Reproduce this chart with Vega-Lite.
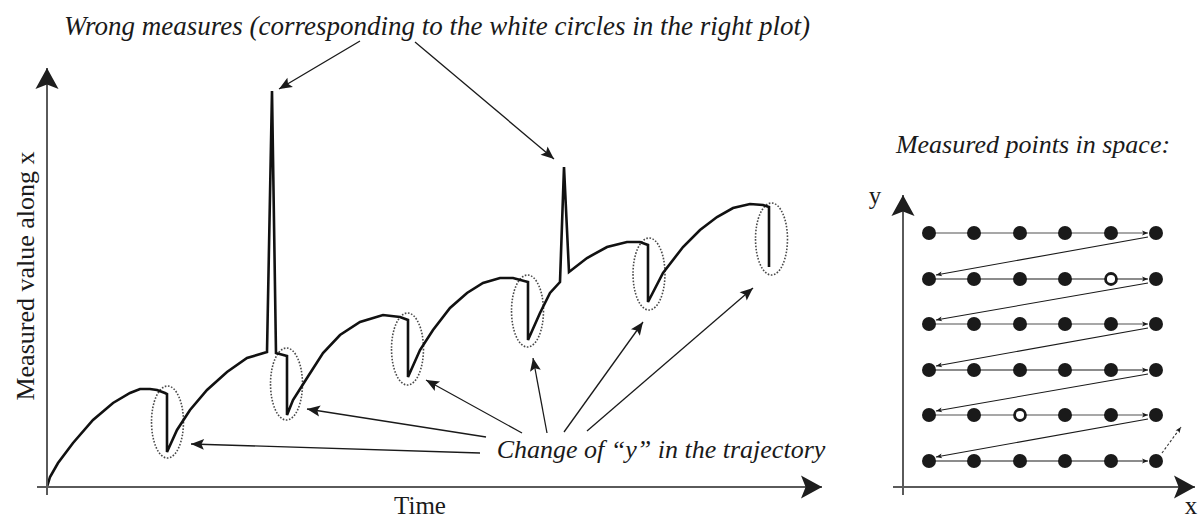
{
  "$schema": "https://vega.github.io/schema/vega-lite/v6.json",
  "width": 1200,
  "height": 522,
  "autosize": {"type": "none"},
  "padding": 0,
  "background": "white",
  "config": {"view": {"stroke": null}},
  "datasets": {
    "curve": [
      {"i": 0, "x": 0, "y": 0}, {"i": 1, "x": 3, "y": 10}, {"i": 2, "x": 11, "y": 24}, {"i": 3, "x": 26, "y": 44},
      {"i": 4, "x": 46, "y": 67}, {"i": 5, "x": 66, "y": 84}, {"i": 6, "x": 83, "y": 94}, {"i": 7, "x": 93, "y": 98},
      {"i": 8, "x": 103, "y": 98}, {"i": 9, "x": 110, "y": 97}, {"i": 10, "x": 118, "y": 94}, {"i": 11, "x": 120, "y": 93},
      {"i": 12, "x": 120, "y": 35}, {"i": 13, "x": 130, "y": 57}, {"i": 14, "x": 143, "y": 77}, {"i": 15, "x": 160, "y": 97},
      {"i": 16, "x": 180, "y": 115}, {"i": 17, "x": 200, "y": 129}, {"i": 18, "x": 220, "y": 135}, {"i": 19, "x": 225, "y": 396},
      {"i": 20, "x": 229, "y": 134}, {"i": 21, "x": 240, "y": 131}, {"i": 22, "x": 240, "y": 72}, {"i": 23, "x": 246, "y": 87},
      {"i": 24, "x": 260, "y": 109}, {"i": 25, "x": 276, "y": 134}, {"i": 26, "x": 293, "y": 152}, {"i": 27, "x": 313, "y": 165},
      {"i": 28, "x": 336, "y": 172}, {"i": 29, "x": 353, "y": 170}, {"i": 30, "x": 361, "y": 167}, {"i": 31, "x": 361, "y": 110},
      {"i": 32, "x": 373, "y": 137}, {"i": 33, "x": 386, "y": 157}, {"i": 34, "x": 403, "y": 179}, {"i": 35, "x": 420, "y": 194},
      {"i": 36, "x": 436, "y": 204}, {"i": 37, "x": 453, "y": 209}, {"i": 38, "x": 466, "y": 209}, {"i": 39, "x": 481, "y": 205},
      {"i": 40, "x": 481, "y": 147}, {"i": 41, "x": 493, "y": 174}, {"i": 42, "x": 503, "y": 194}, {"i": 43, "x": 513, "y": 205},
      {"i": 44, "x": 517, "y": 320}, {"i": 45, "x": 522, "y": 215}, {"i": 46, "x": 540, "y": 229}, {"i": 47, "x": 560, "y": 240},
      {"i": 48, "x": 580, "y": 245}, {"i": 49, "x": 593, "y": 245}, {"i": 50, "x": 601, "y": 242}, {"i": 51, "x": 601, "y": 185},
      {"i": 52, "x": 616, "y": 214}, {"i": 53, "x": 636, "y": 240}, {"i": 54, "x": 653, "y": 257}, {"i": 55, "x": 670, "y": 270},
      {"i": 56, "x": 686, "y": 279}, {"i": 57, "x": 703, "y": 283}, {"i": 58, "x": 716, "y": 282}, {"i": 59, "x": 722, "y": 280},
      {"i": 60, "x": 722, "y": 220}
    ],
    "ellipses": [
      {"x": 120.5, "y": 65}, {"x": 239.5, "y": 103}, {"x": 360.5, "y": 138},
      {"x": 480.5, "y": 176}, {"x": 602, "y": 213}, {"x": 724.5, "y": 248}
    ],
    "arrows": [
      {"x": 0, "y": -8, "x2": 0, "y2": 419, "kind": "axis"},
      {"x": -10, "y": 0, "x2": 775, "y2": 0, "kind": "axis"},
      {"x": 856, "y": -8, "x2": 856, "y2": 292, "kind": "axis"},
      {"x": 846, "y": 0, "x2": 1148, "y2": 0, "kind": "axis"},
      {"x": 313, "y": 446, "x2": 232, "y2": 398, "kind": "note"},
      {"x": 368, "y": 445, "x2": 507, "y2": 328, "kind": "note"},
      {"x": 433, "y": 34, "x2": 144, "y2": 43, "kind": "note"},
      {"x": 439, "y": 50, "x2": 260, "y2": 78, "kind": "note"},
      {"x": 475, "y": 54, "x2": 379, "y2": 107, "kind": "note"},
      {"x": 500, "y": 54, "x2": 486, "y2": 129, "kind": "note"},
      {"x": 517, "y": 55, "x2": 596, "y2": 165, "kind": "note"},
      {"x": 540, "y": 56, "x2": 706, "y2": 199, "kind": "note"},
      {"x": 882, "y": 254, "x2": 1101, "y2": 254, "kind": "scanB"},
      {"x": 882, "y": 208, "x2": 1101, "y2": 208, "kind": "scanA"},
      {"x": 882, "y": 163, "x2": 1101, "y2": 163, "kind": "scanB"},
      {"x": 882, "y": 117, "x2": 1101, "y2": 117, "kind": "scanA"},
      {"x": 882, "y": 72, "x2": 1101, "y2": 72, "kind": "scanB"},
      {"x": 882, "y": 26, "x2": 1101, "y2": 26, "kind": "scanA"},
      {"x": 1101, "y": 250, "x2": 889, "y2": 212, "kind": "return"},
      {"x": 1101, "y": 204, "x2": 889, "y2": 167, "kind": "return"},
      {"x": 1101, "y": 159, "x2": 889, "y2": 121, "kind": "return"},
      {"x": 1101, "y": 113, "x2": 889, "y2": 76, "kind": "return"},
      {"x": 1101, "y": 68, "x2": 889, "y2": 30, "kind": "return"},
      {"x": 1115, "y": 34, "x2": 1134, "y2": 60, "kind": "next"}
    ],
    "points": [
      {"x": 882, "y": 254, "status": "ok"}, {"x": 927, "y": 254, "status": "ok"}, {"x": 973, "y": 254, "status": "ok"},
      {"x": 1018, "y": 254, "status": "ok"}, {"x": 1064, "y": 254, "status": "ok"}, {"x": 1109, "y": 254, "status": "ok"},
      {"x": 882, "y": 208, "status": "ok"}, {"x": 927, "y": 208, "status": "ok"}, {"x": 973, "y": 208, "status": "ok"},
      {"x": 1018, "y": 208, "status": "ok"}, {"x": 1064, "y": 208, "status": "wrong"}, {"x": 1109, "y": 208, "status": "ok"},
      {"x": 882, "y": 163, "status": "ok"}, {"x": 927, "y": 163, "status": "ok"}, {"x": 973, "y": 163, "status": "ok"},
      {"x": 1018, "y": 163, "status": "ok"}, {"x": 1064, "y": 163, "status": "ok"}, {"x": 1109, "y": 163, "status": "ok"},
      {"x": 882, "y": 117, "status": "ok"}, {"x": 927, "y": 117, "status": "ok"}, {"x": 973, "y": 117, "status": "ok"},
      {"x": 1018, "y": 117, "status": "ok"}, {"x": 1064, "y": 117, "status": "ok"}, {"x": 1109, "y": 117, "status": "ok"},
      {"x": 882, "y": 72, "status": "ok"}, {"x": 927, "y": 72, "status": "ok"}, {"x": 973, "y": 72, "status": "wrong"},
      {"x": 1018, "y": 72, "status": "ok"}, {"x": 1064, "y": 72, "status": "ok"}, {"x": 1109, "y": 72, "status": "ok"},
      {"x": 882, "y": 26, "status": "ok"}, {"x": 927, "y": 26, "status": "ok"}, {"x": 973, "y": 26, "status": "ok"},
      {"x": 1018, "y": 26, "status": "ok"}, {"x": 1064, "y": 26, "status": "ok"}, {"x": 1109, "y": 26, "status": "ok"}
    ],
    "labels": [
      {"x": 390, "y": 452, "text": "Wrong measures (corresponding to the white circles in the right plot)", "kind": "title"},
      {"x": 614, "y": 29, "text": "Change of “y” in the trajectory", "kind": "italic"},
      {"x": 986, "y": 334, "text": "Measured points in space:", "kind": "italic"},
      {"x": 373, "y": -27, "text": "Time", "kind": "roman"},
      {"x": 828, "y": 283, "text": "y", "kind": "roman"},
      {"x": 1144, "y": -27, "text": "x", "kind": "roman"},
      {"x": -13, "y": 211, "text": "Measured value along x", "kind": "vertical"}
    ]
  },
  "encoding": {
    "x": {"field": "x", "type": "quantitative", "scale": {"domain": [-47, 1153], "nice": false, "zero": false}, "axis": null},
    "y": {"field": "y", "type": "quantitative", "scale": {"domain": [-35, 487], "nice": false, "zero": false}, "axis": null}
  },
  "layer": [
    {
      "data": {"name": "ellipses"},
      "mark": {"type": "point", "shape": "M-0.444,0 A0.444,1 0 1,0 0.444,0 A0.444,1 0 1,0 -0.444,0 Z", "size": 5184, "filled": false, "stroke": "#4a4a4a", "strokeWidth": 1.6, "strokeDash": [1.6, 1.6], "opacity": 1}
    },
    {
      "data": {"name": "curve"},
      "mark": {"type": "line", "color": "#111111", "strokeWidth": 2.6},
      "encoding": {"order": {"field": "i", "type": "quantitative"}}
    },
    {
      "data": {"name": "arrows"},
      "transform": [{"filter": "datum.kind == 'axis'"}],
      "mark": {"type": "rule", "color": "#5a5a5a", "strokeWidth": 2},
      "encoding": {"x2": {"field": "x2"}, "y2": {"field": "y2"}}
    },
    {
      "data": {"name": "arrows"},
      "transform": [{"filter": "datum.kind == 'note'"}],
      "mark": {"type": "rule", "color": "#1a1a1a", "strokeWidth": 1.3},
      "encoding": {"x2": {"field": "x2"}, "y2": {"field": "y2"}}
    },
    {
      "data": {"name": "arrows"},
      "transform": [{"filter": "datum.kind == 'scanA' || datum.kind == 'return'"}],
      "mark": {"type": "rule", "color": "#1a1a1a", "strokeWidth": 1.1},
      "encoding": {"x2": {"field": "x2"}, "y2": {"field": "y2"}}
    },
    {
      "data": {"name": "arrows"},
      "transform": [{"filter": "datum.kind == 'scanB'"}],
      "mark": {"type": "rule", "color": "#8a8a8a", "strokeWidth": 1.4},
      "encoding": {"x2": {"field": "x2"}, "y2": {"field": "y2"}}
    },
    {
      "data": {"name": "arrows"},
      "transform": [{"filter": "datum.kind == 'next'"}],
      "mark": {"type": "rule", "color": "#333333", "strokeWidth": 1.1, "strokeDash": [2.5, 2]},
      "encoding": {"x2": {"field": "x2"}, "y2": {"field": "y2"}}
    },
    {
      "data": {"name": "arrows"},
      "transform": [
        {"filter": "datum.kind == 'axis'"},
        {"calculate": "atan2(datum.x2 - datum.x, datum.y2 - datum.y) * 180 / PI", "as": "ang"}
      ],
      "mark": {"type": "point", "shape": "M0,0 L0.55,1 L0,0.78 L-0.55,1 Z", "size": 1764, "filled": true, "color": "#1e1e1e", "opacity": 1},
      "encoding": {
        "x": {"field": "x2", "type": "quantitative"},
        "y": {"field": "y2", "type": "quantitative"},
        "angle": {"field": "ang", "type": "quantitative", "scale": null}
      }
    },
    {
      "data": {"name": "arrows"},
      "transform": [
        {"filter": "datum.kind == 'note'"},
        {"calculate": "atan2(datum.x2 - datum.x, datum.y2 - datum.y) * 180 / PI", "as": "ang"}
      ],
      "mark": {"type": "point", "shape": "M0,0 L0.42,1 L0,0.8 L-0.42,1 Z", "size": 676, "filled": true, "color": "#1a1a1a", "opacity": 1},
      "encoding": {
        "x": {"field": "x2", "type": "quantitative"},
        "y": {"field": "y2", "type": "quantitative"},
        "angle": {"field": "ang", "type": "quantitative", "scale": null}
      }
    },
    {
      "data": {"name": "arrows"},
      "transform": [
        {"filter": "datum.kind == 'scanA' || datum.kind == 'scanB' || datum.kind == 'return' || datum.kind == 'next'"},
        {"calculate": "atan2(datum.x2 - datum.x, datum.y2 - datum.y) * 180 / PI", "as": "ang"}
      ],
      "mark": {"type": "point", "shape": "M0,0 L0.4,1 L0,0.75 L-0.4,1 Z", "size": 144, "filled": true, "color": "#1a1a1a", "opacity": 1},
      "encoding": {
        "x": {"field": "x2", "type": "quantitative"},
        "y": {"field": "y2", "type": "quantitative"},
        "angle": {"field": "ang", "type": "quantitative", "scale": null}
      }
    },
    {
      "data": {"name": "points"},
      "transform": [{"filter": "datum.status == 'ok'"}],
      "mark": {"type": "circle", "size": 195, "color": "#1a1a1a", "opacity": 1}
    },
    {
      "data": {"name": "points"},
      "transform": [{"filter": "datum.status == 'wrong'"}],
      "mark": {"type": "point", "shape": "circle", "size": 120, "filled": false, "fill": "white", "stroke": "#1a1a1a", "strokeWidth": 2.8, "opacity": 1}
    },
    {
      "data": {"name": "labels"},
      "transform": [{"filter": "datum.kind == 'title'"}],
      "mark": {"type": "text", "font": "Liberation Serif", "fontStyle": "italic", "fontSize": 27, "align": "center", "baseline": "alphabetic", "color": "#1a1a1a"},
      "encoding": {"text": {"field": "text"}}
    },
    {
      "data": {"name": "labels"},
      "transform": [{"filter": "datum.kind == 'italic'"}],
      "mark": {"type": "text", "font": "Liberation Serif", "fontStyle": "italic", "fontSize": 26, "align": "center", "baseline": "alphabetic", "color": "#1a1a1a"},
      "encoding": {"text": {"field": "text"}}
    },
    {
      "data": {"name": "labels"},
      "transform": [{"filter": "datum.kind == 'roman'"}],
      "mark": {"type": "text", "font": "Liberation Serif", "fontSize": 25, "align": "center", "baseline": "alphabetic", "color": "#1a1a1a"},
      "encoding": {"text": {"field": "text"}}
    },
    {
      "data": {"name": "labels"},
      "transform": [{"filter": "datum.kind == 'vertical'"}],
      "mark": {"type": "text", "font": "Liberation Serif", "fontSize": 26, "angle": 270, "align": "center", "baseline": "alphabetic", "color": "#1a1a1a"},
      "encoding": {"text": {"field": "text"}}
    }
  ]
}
